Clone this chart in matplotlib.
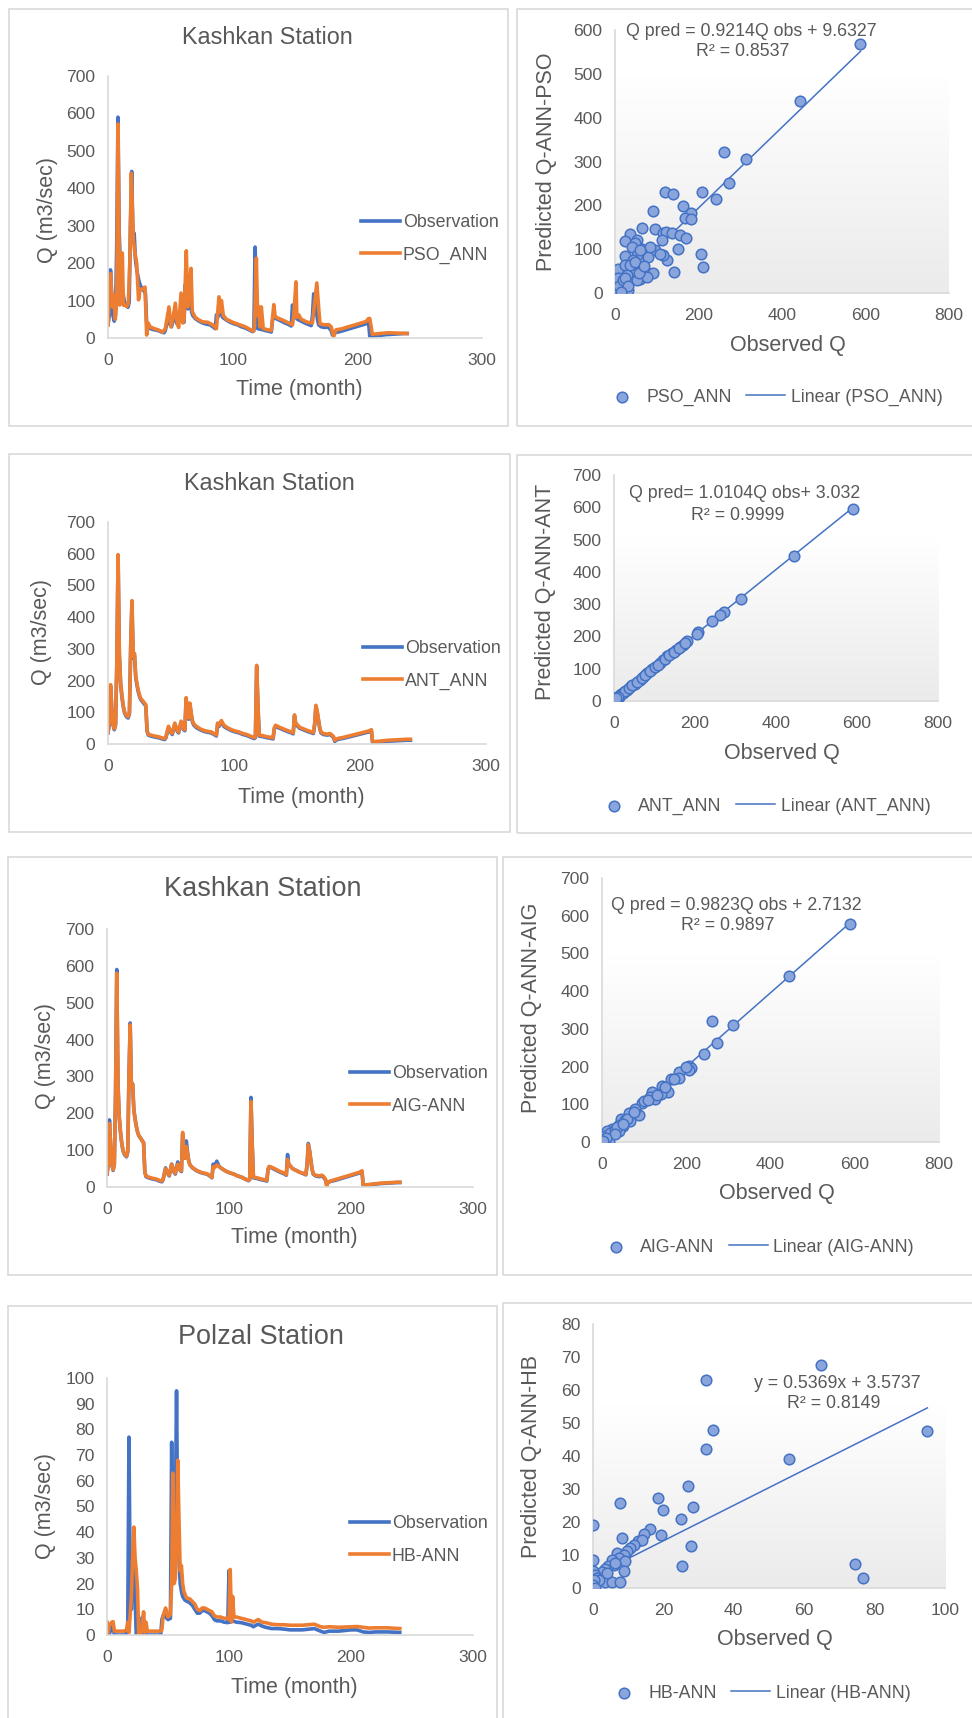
import numpy as np
import matplotlib
matplotlib.use("Agg")
import matplotlib.pyplot as plt
from matplotlib.patches import Rectangle
from matplotlib.colors import LinearSegmentedColormap

plt.rcParams['font.family'] = ['Liberation Sans', 'DejaVu Sans']

W, H = 972, 1718
GREY_TXT = '#595959'
AXIS_C = '#D9D9D9'
BLUE = '#4472C4'
ORANGE = '#ED7D31'

# ---------------- data: Kashkan station (monthly flow, m3/s) ----------------
kash_t = [0, 1, 2, 3, 4, 5, 6, 7, 8, 9, 10, 11, 12, 13, 14, 15, 16, 17, 18, 19,
          20, 21, 22, 23, 24, 25, 26, 27, 28, 29, 30, 31, 32, 34, 37, 40, 43, 45, 46, 48,
          50, 51, 53, 55, 56, 58, 60, 61, 62, 63, 64, 65, 66, 67, 68, 70, 73, 76, 79, 82,
          85, 86, 87, 88, 90, 92, 95, 98, 101, 104, 107, 110, 113, 116, 117, 118, 119, 120, 123, 126,
          129, 131, 132, 133, 136, 139, 142, 145, 147, 148, 149, 150, 152, 155, 158, 161, 163, 164, 165, 166,
          167, 168, 169, 171, 174, 176, 177, 179, 180, 181, 183, 187, 191, 195, 199, 203, 207, 209, 210, 213,
          218, 223, 228, 233, 238, 240]
kash_obs = [35, 60, 182, 110, 60, 45, 60, 250, 590, 280, 190, 150, 120, 100, 90, 85, 82, 95, 300, 445,
            270, 280, 210, 185, 165, 150, 140, 135, 130, 125, 120, 40, 28, 25, 22, 20, 16, 14, 20, 52,
            35, 30, 62, 40, 35, 68, 45, 42, 142, 100, 78, 125, 95, 70, 60, 52, 45, 40, 37, 35,
            28, 25, 62, 55, 70, 55, 48, 42, 38, 35, 30, 27, 22, 17, 20, 243, 120, 25, 23, 20,
            18, 16, 48, 55, 50, 45, 40, 36, 32, 88, 60, 58, 50, 45, 40, 36, 33, 60, 118, 100,
            75, 50, 35, 30, 28, 30, 28, 20, 8, 12, 15, 18, 22, 26, 30, 34, 38, 42, 4, 5,
            7, 9, 10, 11, 12, 12]
kash_ant = [38, 63, 187, 114, 63, 48, 63, 255, 597, 286, 195, 155, 124, 104, 94, 89, 86, 99, 306, 452,
            276, 286, 215, 190, 170, 155, 144, 139, 134, 129, 124, 43, 31, 28, 25, 23, 19, 17, 23, 56,
            38, 33, 66, 43, 38, 72, 48, 45, 146, 104, 82, 129, 99, 74, 64, 56, 48, 43, 40, 38,
            31, 28, 66, 59, 74, 59, 51, 45, 41, 38, 33, 30, 25, 20, 23, 248, 124, 28, 26, 23,
            21, 19, 51, 59, 53, 48, 43, 39, 35, 92, 64, 62, 53, 48, 43, 39, 36, 64, 122, 104,
            79, 53, 38, 33, 31, 33, 31, 23, 11, 15, 18, 21, 25, 29, 33, 37, 41, 45, 7, 8,
            10, 12, 13, 14, 15, 15]
kash_aig = [36, 62, 172, 112, 62, 47, 62, 245, 580, 278, 192, 152, 122, 102, 92, 87, 84, 97, 298, 440,
            268, 278, 208, 185, 165, 150, 140, 135, 130, 125, 120, 42, 30, 27, 24, 22, 18, 16, 22, 50,
            36, 32, 62, 42, 37, 62, 46, 44, 148, 100, 78, 110, 92, 70, 60, 53, 46, 41, 38, 36,
            29, 26, 55, 52, 60, 55, 48, 42, 38, 35, 30, 27, 22, 18, 21, 232, 115, 27, 25, 22,
            20, 18, 48, 56, 52, 47, 42, 38, 34, 75, 60, 58, 50, 45, 40, 37, 34, 60, 115, 98,
            74, 50, 36, 32, 30, 32, 30, 22, 2, 12, 16, 20, 24, 28, 32, 36, 40, 44, 5, 6,
            8, 10, 11, 12, 13, 13]

pso_t = [0, 2, 3.5, 4.7, 5.8, 7, 8, 9.4, 11.5, 12.3, 13, 15, 16.3, 17.5, 18.7, 20.3, 21.5, 23, 24.5, 25.6,
         28, 29.7, 31, 32.3, 33.7, 37, 40, 44, 46, 48.9, 50.5, 52, 54, 55.5, 56.7, 58.6, 60, 61, 62.8, 64,
         65, 66.6, 67.6, 70, 73, 76, 80, 84, 87, 89, 90, 91, 92.5, 95, 100, 105, 110, 116.6, 117.5, 119,
         120, 121, 122, 123, 124.5, 128, 131, 133, 134, 135, 140, 145, 148, 149, 150.8, 151.5, 153, 155, 160, 164,
         167.5, 169, 170, 174, 177, 179, 181, 183, 187, 191, 195, 199, 203, 207, 209, 210, 212, 218, 225, 232, 240]
pso_q = [35, 172, 83, 115, 50, 100, 572, 88, 227, 88, 90, 84, 93, 200, 440, 262, 230, 200, 102, 128,
         132, 136, 8, 40, 30, 25, 22, 16, 25, 83, 30, 50, 93, 40, 28, 120, 40, 50, 233, 83,
         120, 186, 71, 55, 48, 43, 42, 35, 25, 110, 70, 100, 60, 50, 42, 36, 30, 18, 30, 213,
         60, 83, 30, 83, 25, 22, 20, 89, 60, 55, 48, 40, 35, 60, 150, 55, 62, 50, 42, 40,
         147, 80, 38, 35, 36, 30, 4, 22, 24, 28, 32, 36, 40, 44, 52, 52, 10, 12, 14, 13, 12]

# ---------------- data: Polzal station ----------------
pol_t = [0, 1, 2, 4, 5, 6, 10, 14, 16, 17, 18, 19, 20, 21, 22, 23, 24, 26, 28, 29,
         30, 31, 32, 36, 40, 44, 45, 46, 47, 48, 50, 52, 53, 54, 55, 56, 57, 58, 59, 60,
         61, 62, 64, 66, 68, 70, 72, 74, 76, 78, 80, 82, 84, 86, 88, 90, 93, 96, 99, 100,
         101, 103, 106, 110, 114, 118, 120, 122, 124, 127, 130, 135, 140, 145, 150, 160, 170, 175, 178, 182,
         190, 200, 205, 210, 215, 220, 230, 240]
pol_obs = [0, 0, 0.5, 3.5, 3.5, 0, 0, 0, 0.5, 3, 77, 20, 10, 28, 25, 15, 0, 0, 0, 7,
           0, 5, 0, 0, 0, 0, 6, 7.5, 8, 7, 6, 6.5, 75, 20, 25, 45, 95, 40, 30, 20,
           17, 15, 13.5, 13, 12.5, 11.5, 10, 8.5, 8.5, 9.5, 9.5, 9, 8.5, 7.5, 6, 5.5, 5.5, 5, 4.8, 25,
           5, 5.5, 5, 4.8, 4.3, 3.8, 3.2, 3.8, 4.2, 3.5, 3, 2.5, 2.5, 2.3, 2, 2, 2.5, 1.5, 1, 1.5,
           1.5, 2, 2, 1.2, 1, 1.2, 1.2, 1]
hb_t = [0, 1, 2, 4, 5, 6, 10, 14, 16, 17, 18, 19, 20, 21, 22, 23, 24, 25, 26, 28,
        29, 30, 31, 32, 33, 36, 40, 44, 45, 46, 48, 49, 50, 52, 53, 54, 55, 56, 57, 58,
        59, 60, 61, 62, 63, 65, 68, 70, 72, 74, 76, 78, 80, 84, 86, 88, 90, 93, 96, 99,
        100, 101, 102, 103, 104, 106, 110, 114, 118, 120, 122, 124, 127, 130, 135, 140, 145, 150, 160, 170,
        175, 178, 182, 190, 200, 205, 210, 215, 220, 230, 240]
hb_q = [5, 1, 4, 5, 5.2, 1.5, 1.5, 1.5, 2, 5, 1, 8, 15, 30, 42, 30, 25, 18, 0, 1,
        4, 9, 1, 5, 1.5, 1.5, 1.5, 1.5, 2, 7.5, 10.5, 9, 7, 8, 20, 63, 20, 22, 35, 68,
        45, 25, 27, 20, 17, 14.5, 14, 13, 12, 10, 9.5, 10.5, 10.5, 9.5, 9, 7.5, 7, 7, 6.5, 6.5,
        6, 25.5, 5, 15, 7, 7, 6.5, 6, 5.5, 5, 5.5, 6, 5, 4.8, 4.2, 4, 4, 3.8, 3.8, 4.2,
        3.2, 3, 3.2, 3, 3.2, 3.3, 3, 2.7, 2.8, 2.8, 2.5]

# ---------------- scatter data (observed, predicted) ----------------
pso_obs_sc = [588, 444, 261, 314, 273, 241, 208, 120, 140, 164, 182, 168, 182, 90, 65, 96, 116, 36, 24, 122,
              136, 156, 170, 112, 53, 48, 40, 64, 76, 96, 68, 52, 24, 152, 206, 210, 124, 142, 116, 6,
              6, 24, 72, 92, 108, 56, 40, 60, 32, 16, 8, 32, 12, 20, 44, 80, 84, 28, 52, 76,
              44, 60, 3, 10, 18, 25, 35, 48, 58, 70, 30, 14]
pso_pred_sc = [569, 439, 322, 306, 252, 214, 231, 231, 225, 198, 183, 172, 169, 186, 149, 146, 138, 135, 119, 140,
               136, 132, 126, 121, 121, 113, 106, 100, 94, 98, 79, 87, 84, 100, 88, 60, 75, 47, 87, 55,
               34, 64, 51, 45, 90, 60, 41, 33, 26, 11, 7, 7, 0, 22, 52, 83, 106, 41, 30, 37,
               75, 98, 5, 15, 30, 35, 65, 70, 45, 62, 15, 3]

ant_obs_sc = [589, 445, 313, 272, 261, 242, 208, 204, 181, 171, 164, 154, 142, 132, 121, 113, 94, 82, 72, 64,
              51, 41, 33, 25, 18, 12, 6, 2, 8, 15, 22, 28, 37, 45, 56, 68, 77, 88, 100, 108,
              126, 137, 148, 160, 175, 3, 10, 5]
ant_pred_sc = [595, 450, 317, 276, 266, 247, 214, 209, 186, 175, 168, 157, 149, 140, 128, 119, 100, 88, 74, 66,
               54, 46, 35, 28, 21, 12, 7, 4, 11, 18, 25, 31, 40, 49, 60, 72, 81, 92, 104, 112,
               131, 142, 153, 165, 180, 6, 13, 8]

aig_obs_sc = [589, 444, 262, 312, 272, 242, 206, 211, 206, 182, 182, 164, 142, 157, 140, 119, 115, 126, 95, 88,
              79, 67, 63, 46, 41, 51, 24, 12, 8, 4, 16, 40, 67, 20, 30, 35, 55, 60, 75, 100,
              110, 130, 150, 170, 200, 30, 50, 10, 2]
aig_pred_sc = [579, 441, 322, 309, 263, 233, 202, 196, 190, 185, 170, 167, 148, 133, 126, 133, 119, 114, 103, 72,
               88, 72, 77, 61, 46, 42, 34, 28, 15, 4, 0, 28, 55, 25, 32, 40, 58, 60, 80, 110,
               112, 125, 145, 168, 200, 20, 48, 10, 2]

hb_obs_sc = [64.7, 32.2, 34.2, 32.1, 95, 55.7, 27.1, 18.4, 7.6, 19.9, 28.3, 25, 0, 16.2, 14.4, 19.4, 8.2, 12.7, 13.9, 11.7,
             27.9, 10.6, 9.6, 6.8, 8.7, 7.3, 5.4, 0, 9.2, 5.9, 74.5, 25.3, 4.4, 3.5, 8.7, 2.6, 0, 0.7, 1.1, 76.8,
             3.5, 5.4, 7.6, 0, 0, 1.6, 4, 6.3, 0.2, 0, 0.5]
hb_pred_sc = [67.7, 62.9, 47.8, 42.2, 47.7, 39.1, 30.9, 27.3, 25.8, 23.5, 24.5, 21, 19.1, 17.9, 16.5, 16.1, 15.2, 14.3, 14.6, 13.1,
              12.6, 12.1, 11.1, 10.6, 10.1, 9.1, 8.6, 8.6, 8.1, 7.1, 7.4, 6.6, 6.6, 5.8, 5.1, 4.7, 5.1, 4, 3, 3,
              1.7, 1.7, 1.7, 1.5, 0.3, 2.5, 4.5, 7.6, 2.5, 1, 0]

# trend line coefficients shown on the charts: (slope, intercept)
pso_fit = (0.9214, 9.6327)
ant_fit = (1.0104, 3.032)
aig_fit = (0.9823, 2.7132)
hb_fit = (0.5369, 3.5737)


fig = plt.figure(figsize=(W / 100, H / 100), dpi=100)


def fx(x):
    return x / W


def fy(y):
    return 1 - y / H


def box(x0, y0, x1, y1):
    fig.add_artist(Rectangle((fx(x0), fy(y1)), fx(x1 - x0), (y1 - y0) / H,
                             transform=fig.transFigure, fill=False,
                             edgecolor=AXIS_C, lw=1.2))


def make_axes(x0, x1, ytop, ybot):
    ax = fig.add_axes([fx(x0), fy(ybot), (x1 - x0) / W, (ybot - ytop) / H])
    for s in ['top', 'right']:
        ax.spines[s].set_visible(False)
    for s in ['left', 'bottom']:
        ax.spines[s].set_color(AXIS_C)
        ax.spines[s].set_linewidth(1.2)
    ax.tick_params(length=0, labelsize=12.6, labelcolor=GREY_TXT)
    ax.tick_params(axis='x', pad=11)
    ax.tick_params(axis='y', pad=9)
    ax.patch.set_alpha(0)
    return ax


def label(x, y, s, size, rot=0):
    fig.text(fx(x), fy(y), s, ha='center', va='center', rotation=rot,
             fontsize=size, color=GREY_TXT)


def ts_panel(rect, t1, q1, t2, q2, name, ymax, ystep, title, tpos, tsize,
             ylpos, xlpos, legpos):
    ax = make_axes(*rect)
    ax.plot(t1, q1, color=BLUE, lw=2.6, label='Observation', solid_joinstyle='round')
    ax.plot(t2, q2, color=ORANGE, lw=2.6, label=name, solid_joinstyle='round')
    ax.set_xlim(0, 300)
    ax.set_ylim(0, ymax)
    ax.set_xticks([0, 100, 200, 300])
    ax.set_yticks(np.arange(0, ymax + 1, ystep))
    ax.legend(loc='center left', bbox_to_anchor=(fx(legpos[0]), fy(legpos[1])),
              bbox_transform=fig.transFigure, frameon=False, fontsize=12.8,
              handlelength=2.2, handletextpad=0.15, labelspacing=0.85,
              borderpad=0, borderaxespad=0, labelcolor=GREY_TXT)
    label(tpos[0], tpos[1], title, tsize)
    label(ylpos[0], ylpos[1], 'Q (m3/sec)', 15.5, 90)
    label(xlpos[0], xlpos[1], 'Time (month)', 15.5)
    return ax


grad_cmap = LinearSegmentedColormap.from_list('g', ['#EBEBEB', '#FFFFFF'])


def sc_panel(rect, xs, ys, fit, name, ylab, xmax, xstep, ymax, ystep, gtop,
             eq, eq1pos, eq2pos, r2, ylpos, xlpos, legpos):
    ax = make_axes(*rect)
    ax.imshow(np.linspace(0, 1, 100)[:, None][::-1], cmap=grad_cmap,
              extent=[0, xmax, 0, gtop], aspect='auto', zorder=0)
    ax.scatter(xs, ys, s=58, facecolor='#8AA5DC', edgecolor=BLUE, lw=1.1,
               zorder=3, label=name)
    xl = np.array([min(xs), max(xs)])
    ax.plot(xl, fit[0] * xl + fit[1], color=BLUE, lw=1.1, zorder=2,
            label='Linear (' + name + ')')
    ax.set_xlim(0, xmax)
    ax.set_ylim(0, ymax)
    ax.set_xticks(np.arange(0, xmax + 1, xstep))
    ax.set_yticks(np.arange(0, ymax + 1, ystep))
    ax.xaxis.set_major_formatter(plt.FuncFormatter(lambda v, p: '%d' % v))
    ax.legend(loc='center left', bbox_to_anchor=(fx(legpos[0]), fy(legpos[1])),
              bbox_transform=fig.transFigure, frameon=False, fontsize=12.8, ncol=2,
              handlelength=2.2, handletextpad=0.3, columnspacing=0.8,
              borderpad=0, borderaxespad=0, labelcolor=GREY_TXT)
    label(eq1pos[0], eq1pos[1], eq, 12.8)
    label(eq2pos[0], eq2pos[1], r2, 12.8)
    label(ylpos[0], ylpos[1], ylab, 15.5, 90)
    label(xlpos[0], xlpos[1], 'Observed Q', 15.5)
    return ax


# panel frames
box(9, 9, 508, 426)
box(517, 9, 976, 426)
box(9, 454, 510, 832)
box(517, 455, 976, 833)
box(8, 857, 497, 1275)
box(503, 857, 976, 1275)
box(8, 1306, 497, 1722)
box(503, 1303, 976, 1722)

# row 1
ts_panel((108, 482, 76, 338), kash_t, kash_obs, pso_t, pso_q, 'PSO_ANN', 700, 100,
         'Kashkan Station', (267, 38), 16.8, (47, 210), (299, 389), (361, 239))
sc_panel((615, 949, 30, 293), pso_obs_sc, pso_pred_sc, pso_fit, 'PSO_ANN',
         'Predicted Q-ANN-PSO', 800, 200, 600, 100, 495,
         'Q pred = 0.9214Q obs + 9.6327', (751, 31), (743, 51), 'R² = 0.8537',
         (546, 162), (788, 345), (602, 397))

# row 2
ts_panel((108, 486, 522, 744), kash_t, kash_obs, kash_t, kash_ant, 'ANT_ANN', 700, 100,
         'Kashkan Station', (269, 484), 16.8, (42, 632), (301, 797), (363, 665))
sc_panel((614, 938, 475, 701), ant_obs_sc, ant_pred_sc, ant_fit, 'ANT_ANN',
         'Predicted Q-ANN-ANT', 800, 200, 700, 100, 505,
         'Q pred= 1.0104Q obs+ 3.032', (745, 493), (738, 515), 'R² = 0.9999',
         (545, 592), (782, 753), (594, 806))

# row 3
ts_panel((107, 473, 929, 1187), kash_t, kash_obs, kash_t, kash_aig, 'AIG-ANN', 700, 100,
         'Kashkan Station', (263, 889), 19.5, (46, 1056), (294, 1238), (350, 1090))
sc_panel((602, 939, 878, 1142), aig_obs_sc, aig_pred_sc, aig_fit, 'AIG-ANN',
         'Predicted Q-ANN-AIG', 800, 200, 700, 100, 496,
         'Q pred = 0.9823Q obs + 2.7132', (736, 905), (728, 926), 'R² = 0.9897',
         (532, 1008), (777, 1194), (596, 1247))

# row 4
ts_panel((107, 473, 1378, 1635), pol_t, pol_obs, hb_t, hb_q, 'HB-ANN', 100, 10,
         'Polzal Station', (261, 1337), 19.5, (46, 1506), (294, 1687), (350, 1540))
sc_panel((593, 945, 1324, 1588), hb_obs_sc, hb_pred_sc, hb_fit, 'HB-ANN',
         'Predicted Q-ANN-HB', 100, 20, 80, 10, 56,
         'y = 0.5369x + 3.5737', (837, 1383), (834, 1404), 'R² = 0.8149',
         (531, 1457), (775, 1640), (604, 1693))

fig.savefig('out.png', dpi=100)
